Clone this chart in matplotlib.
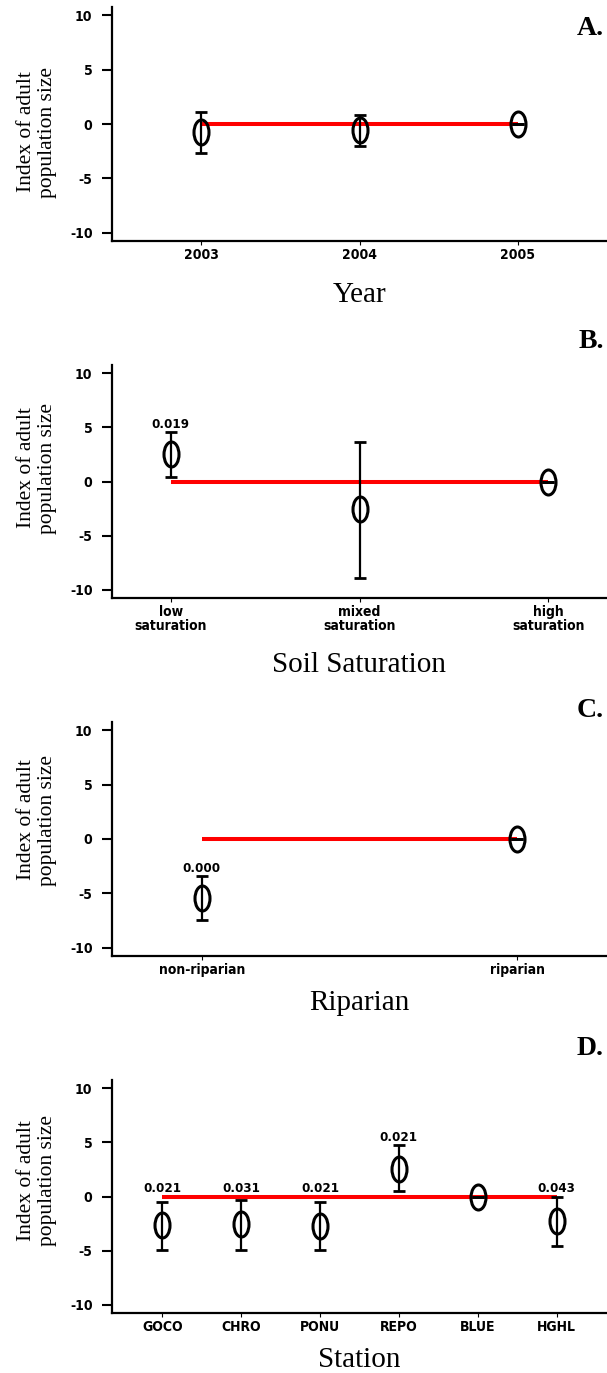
import numpy as np
import matplotlib
matplotlib.use("Agg")
import matplotlib.pyplot as plt
from matplotlib.path import Path
import matplotlib.transforms as mtransforms

# --- data ---
year_cats = ["2003", "2004", "2005"]
year_mean = [-0.78, -0.55, 0.0]
year_upper = [1.14, 0.80, 0.0]
year_lower = [-2.70, -2.02, 0.0]
year_p = ["", "", ""]

soil_cats = ["low\nsaturation", "mixed\nsaturation", "high\nsaturation"]
soil_mean = [2.52, -2.56, 0.0]
soil_upper = [4.58, 3.66, 0.0]
soil_lower = [0.42, -8.86, 0.0]
soil_p = ["0.019", "", ""]

rip_cats = ["non-riparian", "riparian"]
rip_mean = [-5.41, 0.0]
rip_upper = [-3.43, 0.0]
rip_lower = [-7.47, 0.0]
rip_p = ["0.000", ""]

stat_cats = ["GOCO", "CHRO", "PONU", "REPO", "BLUE", "HGHL"]
stat_mean = [-2.64, -2.55, -2.70, 2.58, 0.0, -2.24]
stat_upper = [-0.55, -0.31, -0.55, 4.73, 0.0, -0.03]
stat_lower = [-4.92, -4.92, -4.92, 0.52, 0.0, -4.55]
stat_p = ["0.021", "0.031", "0.021", "0.021", "", "0.043"]

y_ticks = [-10, -5, 0, 5, 10]
y_ticklabels = ["-10", "-5", "0", "5", "10"]
ylabel = "Index of adult\npopulation size"

panels = [
    ("A.", "Year", year_cats, year_mean, year_upper, year_lower, year_p),
    ("B.", "Soil Saturation", soil_cats, soil_mean, soil_upper, soil_lower, soil_p),
    ("C.", "Riparian", rip_cats, rip_mean, rip_upper, rip_lower, rip_p),
    ("D.", "Station", stat_cats, stat_mean, stat_upper, stat_lower, stat_p),
]

# --- layout (pixels in a 607 x 1373 canvas) ---
W, H = 607, 1373
ax_left, ax_right = 112, 607
ax_tops = [7, 365, 722, 1080]
ax_bottoms = [241, 598, 956, 1313]
xpad = [0.565, 0.31, 0.285, 0.64]          # margin beyond first/last category
title_base = [35, 348, 717, 1055]
xlabel_base = [302, 672, 1010, 1367]
ylabel_mid = [132, 468, 820, 1181]

tick_font = dict(family="DejaVu Sans", fontweight="bold", fontstretch="condensed")
serif_font = ["Liberation Serif", "DejaVu Serif"]

# tall open ellipse marker
ellipse = Path.unit_circle().transformed(mtransforms.Affine2D().scale(0.6, 1.0))

fig = plt.figure(figsize=(W / 100, H / 100), dpi=100)

for i, (tag, xlab, cats, mean, upper, lower, pvals) in enumerate(panels):
    top, bot = ax_tops[i], ax_bottoms[i]
    ax = fig.add_axes([ax_left / W, 1 - bot / H, (ax_right - ax_left) / W, (bot - top) / H])
    x = np.arange(len(cats))
    mean = np.array(mean)
    upper = np.array(upper)
    lower = np.array(lower)

    # reference category = the one without an interval
    ref = mean[np.argmin(upper - lower)]
    ax.plot([x[0], x[-1]], [ref, ref], color="#ff0000", lw=2.9,
            solid_capstyle="butt", zorder=1)

    ax.errorbar(x, mean, yerr=[mean - lower, upper - mean], fmt="none",
                ecolor="black", elinewidth=1.6, capsize=4.2, capthick=2.0, zorder=2)
    ax.plot(x, mean, ls="none", marker=ellipse, ms=18, mfc="none",
            mec="black", mew=2.2, zorder=3)

    for xi, up, p in zip(x, upper, pvals):
        if not p:
            continue
        anchor = ref if -1.5 < up < ref else up
        ax.annotate(p, (xi, anchor), xytext=(0, 3), textcoords="offset points",
                    ha="center", va="baseline", fontsize=9.5, **tick_font)

    ax.set_xlim(-xpad[i], len(cats) - 1 + xpad[i])
    ax.set_ylim(-10.75, 10.75)
    ax.set_xticks(x)
    ax.set_xticklabels(cats, fontsize=10, linespacing=1.05, **tick_font)
    ax.set_yticks(y_ticks)
    ax.set_yticklabels(y_ticklabels, fontsize=10, **tick_font)
    ax.tick_params(axis="y", length=7, width=1.5, pad=7)
    ax.tick_params(axis="x", length=3, width=0.8, pad=2)
    for s in ["top", "right"]:
        ax.spines[s].set_visible(False)
    for s in ["left", "bottom"]:
        ax.spines[s].set_linewidth(1.6)

    fig.text(604 / W, 1 - title_base[i] / H, tag, ha="right", va="baseline",
             fontsize=20, fontweight="bold", family=serif_font)
    fig.text((ax_left + ax_right) / 2 / W, 1 - xlabel_base[i] / H, xlab,
             ha="center", va="baseline", fontsize=21, family=serif_font)
    fig.text(37 / W, 1 - ylabel_mid[i] / H, ylabel, rotation=90, ha="center",
             va="center", multialignment="center", fontsize=15.5,
             family=serif_font, linespacing=1.1)

fig.savefig("out.png", dpi=100)
